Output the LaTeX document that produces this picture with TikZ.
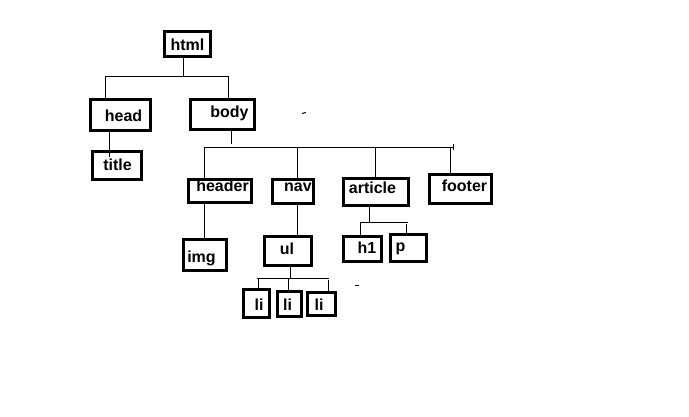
\documentclass[tikz,border=0pt]{standalone}
\usepackage{fontspec}
\setmainfont{Liberation Sans}
\begin{document}
\begin{tikzpicture}[x=1pt,y=-1pt,
  box/.style={draw=black, line width=3pt, inner sep=0pt},
  lbl/.style={font=\bfseries\fontsize{16}{16}\selectfont, inner sep=0pt, anchor=base},
  conn/.style={draw=black, line width=1pt}]
\fill[white] (0,0) rectangle (689,416);
\useasboundingbox (0,0) rectangle (689,416);

% coordinates of the tree bars
\coordinate (b1L) at (105,76);
\coordinate (b1R) at (228,76);
\coordinate (b1c) at (183,76);
\coordinate (b2L) at (204,147);
\coordinate (b2R) at (453,147);
\coordinate (b2c) at (231,147);
\coordinate (b2n) at (297,147);
\coordinate (b2a) at (375,147);
\coordinate (b2f) at (450,147);
\coordinate (b3L) at (360,222);
\coordinate (b3R) at (408,222);
\coordinate (b3c) at (369,222);
\coordinate (b3p) at (406,222);
\coordinate (b4L) at (257,278);
\coordinate (b4R) at (329,278);
\coordinate (b4c) at (290,278);
\coordinate (b4m) at (288,278);
\coordinate (b4r) at (328,278);
\coordinate (tt) at (109,157);

% boxes
\node[box, minimum width=46pt, minimum height=25pt] (html) at (187.5,44) {};
\node[box, minimum width=60pt, minimum height=31pt] (head) at (120.5,115) {};
\node[box, minimum width=64pt, minimum height=30pt] (body) at (222.5,114.5) {};
\node[box, minimum width=49pt, minimum height=28pt] (title) at (117,165.5) {};
\node[box, minimum width=63pt, minimum height=23pt] (header) at (220,191) {};
\node[box, minimum width=41pt, minimum height=24pt] (nav) at (293,191.5) {};
\node[box, minimum width=65pt, minimum height=27pt] (article) at (376,192) {};
\node[box, minimum width=62pt, minimum height=29pt] (footer) at (460.5,189) {};
\node[box, minimum width=43pt, minimum height=31pt] (img) at (205,255) {};
\node[box, minimum width=47pt, minimum height=29pt] (ul) at (288,251) {};
\node[box, minimum width=38pt, minimum height=25pt] (h1) at (362.5,249) {};
\node[box, minimum width=36pt, minimum height=27pt] (p) at (408.5,248) {};
\node[box, minimum width=26pt, minimum height=28pt] (li1) at (256.5,303.5) {};
\node[box, minimum width=24pt, minimum height=25pt] (li2) at (289.5,304) {};
\node[box, minimum width=28pt, minimum height=23pt] (li3) at (321.5,304) {};

% tree lines
\draw[conn] (b1c |- html.south) -- (b1c);
\draw[conn] (b1L) -- (b1R);
\draw[conn] (b1L) -- (b1L |- head.north);
\draw[conn] (b1R) -- (b1R |- body.north);
\draw[conn] (tt |- head.south) -- (tt);
\draw[conn] (b2c |- body.south) -- ([yshift=3pt]b2c);
\draw[conn] (b2L) -- (b2R);
\draw[conn] ([yshift=-3pt]b2R) -- ([yshift=3pt]b2R);
\draw[conn] (b2L) -- (b2L |- header.north);
\draw[conn] (b2n) -- (b2n |- nav.north);
\draw[conn] (b2a) -- (b2a |- article.north);
\draw[conn] (b2f) -- (b2f |- footer.north);
\draw[conn] (b2L |- header.south) -- (b2L |- img.north);
\draw[conn] (b2n |- nav.south) -- (b2n |- ul.north);
\draw[conn] (b3c |- article.south) -- (b3c);
\draw[conn] (b3L) -- (b3R);
\draw[conn] (b3L) -- (b3L |- h1.north);
\draw[conn] ([yshift=-2pt]b3p) -- (b3p |- p.north);
\draw[conn] (b4c |- ul.south) -- (b4c);
\draw[conn] (b4L) -- (b4R);
\draw[conn] ([xshift=1pt]b4L) -- ([xshift=1pt]b4L |- li1.north);
\draw[conn] (b4m) -- (b4m |- li2.north);
\draw[conn] ([yshift=-2pt]b4r) -- (b4r |- li3.north);

% stray marks
\draw[conn] (302,113.5) -- (306,112.5);
\draw[conn] (355,285) -- (359,285);

% labels
\node[lbl] (t-html) at (187.5,50) {html};
\node[lbl] (t-head) at (123.5,121) {head};
\node[lbl] (t-body) at (229.5,117) {body};
\node[lbl] (t-title) at (117.5,170) {title};
\node[lbl] (t-header) at (222.5,191) {header};
\node[lbl] (t-nav) at (298,191) {nav};
\node[lbl] (t-article) at (372.5,193) {article};
\node[lbl] (t-footer) at (464.5,191) {footer};
\node[lbl] (t-img) at (201.5,262) {img};
\node[lbl] (t-ul) at (287,254) {ul};
\node[lbl] (t-h1) at (367,253) {h1};
\node[lbl] (t-p) at (400.5,251) {p};
\node[lbl] (t-li1) at (259,310) {li};
\node[lbl] (t-li2) at (287.5,310) {li};
\node[lbl] (t-li3) at (319,310) {li};
\end{tikzpicture}
\end{document}
